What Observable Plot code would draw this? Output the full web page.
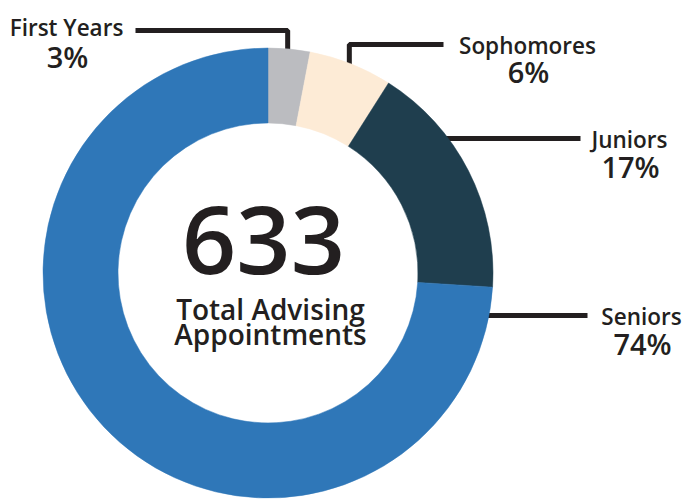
<!DOCTYPE html>
<html>
<head>
<meta charset="utf-8">
<script src="https://cdn.jsdelivr.net/npm/d3@7"></script>
<script src="https://cdn.jsdelivr.net/npm/@observablehq/plot@0.6"></script>
<style>
  html, body { margin: 0; padding: 0; background: #fff; }
  #chart svg { display: block; }
</style>
</head>
<body>
<div id="chart"></div>
<script>
// ---- data ----
const categories = ["First Years", "Sophomores", "Juniors", "Seniors"];
const shares = [3, 6, 17, 74];
const totalAppointments = 633;
const centerLines = ["Total Advising", "Appointments"];

// ---- styles ----
const colors = ["#BBBCC0", "#FDEBD6", "#1F3E4E", "#2F77B8"];
const ink = "#231F20";
const font = "'Open Sans', sans-serif";

// ---- layout (pixels) ----
const W = 682, H = 500;
const cx = 268, cy = 273, R = 225, r = 150;
const labelLayout = [
  {nx: 66,  ny: 35,  py: 67,  leader: "elbow",    lineY: 30,  lineEnd: 135},
  {nx: 527, ny: 53,  py: 82,  leader: "elbow",    lineY: 44,  lineEnd: 443},
  {nx: 629, ny: 147, py: 177, leader: "straight", lineY: 138, lineEnd: 580},
  {nx: 641, ny: 324, py: 354, leader: "straight", lineY: 315, lineEnd: 587}
];

const slices = categories.map((c, i) => ({category: c, share: shares[i], color: colors[i]}));
const arcs = d3.pie().sort(null).value(d => d.share)(slices);

// leader lines derived from slice geometry
const leaders = [];
arcs.forEach((a, i) => {
  const L = labelLayout[i];
  if (L.leader === "elbow") {
    const mid = (a.startAngle + a.endAngle) / 2;
    const mx = cx + R * Math.sin(mid) - 2;
    const my = cy - (R - 8) * Math.cos(mid);
    leaders.push({k: i, x: L.lineEnd, y: L.lineY});
    leaders.push({k: i, x: mx, y: L.lineY});
    leaders.push({k: i, x: mx, y: my});
  } else {
    const rx = cx + Math.sqrt(R * R - (L.lineY - cy) ** 2) - 8;
    leaders.push({k: i, x: L.lineEnd, y: L.lineY});
    leaders.push({k: i, x: rx, y: L.lineY});
  }
});

const nameLabels = categories.map((c, i) => ({text: c, x: labelLayout[i].nx, y: labelLayout[i].ny}));
const pctLabels = shares.map((s, i) => ({text: s + "%", x: labelLayout[i].nx + 1, y: labelLayout[i].py}));

// donut drawn with Plot's scales
function donut(index, scales) {
  const X = scales.x, Y = scales.y;
  const ox = X(cx), oy = Y(cy);
  const outer = X(cx + R) - ox, inner = X(cx + r) - ox;
  const arcGen = d3.arc().innerRadius(inner).outerRadius(outer);
  const g = d3.create("svg:g").attr("transform", `translate(${ox},${oy})`);
  g.selectAll("path").data(arcs).join("path")
    .attr("d", arcGen)
    .attr("fill", d => d.data.color)
    .attr("stroke", d => d.data.color)
    .attr("stroke-width", 0.5);
  return g.node();
}

const chart = Plot.plot({
  width: W,
  height: H,
  margin: 0,
  x: {domain: [0, W], range: [0, W], axis: null},
  y: {domain: [0, H], range: [0, H], axis: null},
  style: {fontFamily: font, background: "#fff"},
  marks: [
    Plot.line(leaders, {x: "x", y: "y", z: "k", stroke: ink, strokeWidth: 5,
      strokeLinejoin: "miter", strokeLinecap: "butt"}),
    donut,
    Plot.text(nameLabels, {x: "x", y: "y", text: "text", fill: ink, fontSize: 22.5,
      fontWeight: 600, textAnchor: "middle", lineAnchor: "bottom", ariaLabel: "names"}),
    Plot.text(pctLabels, {x: "x", y: "y", text: "text", fill: ink, fontSize: 29,
      fontWeight: 600, textAnchor: "middle", lineAnchor: "bottom", ariaLabel: "pcts"}),
    Plot.text([{t: String(totalAppointments)}], {x: () => cx - 5, y: () => cy, text: "t",
      fill: ink, fontSize: 95, fontWeight: 600, textAnchor: "middle", lineAnchor: "bottom"}),
    Plot.text([{t: centerLines.join("\n")}], {x: () => cx + 2, y: () => cy + 71, text: "t",
      fill: ink, fontSize: 28, fontWeight: 600, lineHeight: 24.5 / 28,
      textAnchor: "middle", lineAnchor: "bottom"})
  ]
});

d3.select(chart).selectAll('g[aria-label="pcts"] text').style("letter-spacing", "2px");

document.getElementById("chart").appendChild(chart);
</script>
</body>
</html>
